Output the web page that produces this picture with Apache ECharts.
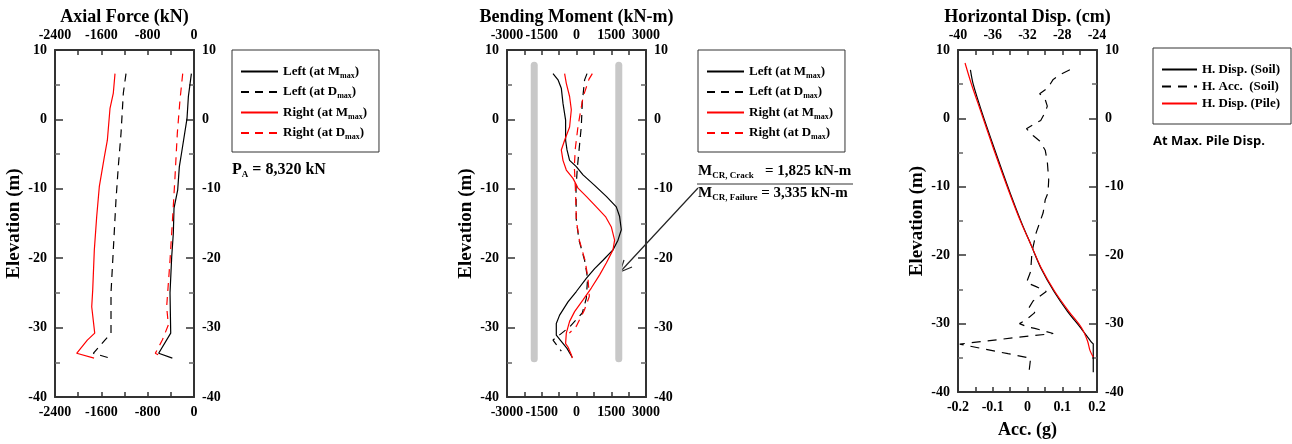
<!DOCTYPE html>
<html>
<head>
<meta charset="utf-8">
<script src="https://cdn.jsdelivr.net/npm/echarts@6/dist/echarts.min.js"></script>
<style>
  html, body { margin: 0; padding: 0; background: #fff; }
  #chart { width: 1292px; height: 444px; }
</style>
</head>
<body>
<div id="chart"></div>
<script>
// ---- data ----
// Axial force (kN) vs elevation (m)
var axLeftMElev  = [6.6, 3.3, 0.1, -4.7, -6.8, -10.2, -12.8, -16.4, -19.8, -25.0, -30.8, -33.7, -34.4];
var axLeftMVal   = [-45, -97, -121, -212, -253, -282, -345, -357, -385, -414, -402, -610, -374];
var axLeftDElev  = [6.6, 3.8, -2.0, -6.8, -11.6, -18.8, -25.0, -30.8, -33.7, -34.4];
var axLeftDVal   = [-1174, -1220, -1260, -1307, -1347, -1393, -1433, -1433, -1739, -1450];
var axRightMElev = [6.6, 3.8, 1.6, -3.0, -5.4, -9.7, -14.0, -18.8, -24.6, -27.0, -30.8, -31.8, -33.7, -34.4];
var axRightMVal  = [-1364, -1393, -1450, -1496, -1548, -1635, -1680, -1721, -1749, -1766, -1714, -1842, -2026, -1726];
var axRightDElev = [6.6, 2.8, -2.0, -8.3, -14.0, -20.3, -27.0, -29.6, -31.8, -33.7, -33.9];
var axRightDVal  = [-195, -242, -288, -328, -368, -414, -472, -443, -547, -668, -620];

// Bending moment (kN-m) vs elevation (m)
var bmLeftMElev  = [6.6, 5.7, 4.5, 2.3, -0.1, -3.0, -4.4, -5.9, -6.8, -8.0, -9.5, -11.1, -12.6, -14.0, -15.9, -17.4, -18.8, -20.3, -21.5, -22.9, -24.8, -26.3, -28.2, -29.4, -31.1, -31.8, -33.0, -33.8, -34.3];
var bmLeftMVal   = [-1014, -798, -656, -583, -470, -470, -410, -298, -8, 281, 782, 1287, 1718, 1861, 1934, 1790, 1575, 1144, 782, 423, -8, -367, -729, -872, -872, -700, -410, -270, -180];
var bmLeftDElev  = [6.6, 5.7, 2.5, -1.0, -4.0, -7.0, -10.0, -12.5, -14.5, -17.4, -20.3, -22.9, -25.8, -27.9, -29.9, -31.8, -33.4];
var bmLeftDVal   = [454, 350, 250, 208, 122, 35, -21, -15, -8, 108, 350, 479, 423, 250, -298, -1014, -656];
var bmRightMElev = [6.6, 5.2, 3.3, 1.4, -1.1, -3.0, -4.4, -5.9, -7.3, -8.5, -9.9, -11.1, -12.6, -14.0, -15.5, -17.4, -18.8, -20.7, -22.4, -24.3, -26.0, -27.7, -29.1, -30.8, -32.3, -32.8, -33.9, -34.4];
var bmRightMVal  = [-513, -440, -298, -224, -298, -513, -656, -583, -440, -151, 65, 423, 855, 1250, 1503, 1645, 1575, 1287, 998, 639, 281, -82, -298, -440, -470, -367, -224, -181];
var bmRightDElev = [6.6, 5.8, 3.2, -1.0, -4.2, -6.8, -9.7, -12.6, -14.5, -17.4, -20.3, -22.9, -25.5, -27.5, -29.8, -30.8];
var bmRightDVal  = [683, 540, 281, 65, -51, -94, -51, -21, -8, 122, 367, 496, 553, 337, -8, -310];
var crackMoment  = 1825;
var crackElev    = [7.8, -34.5];

// Horizontal displacement (cm) and acceleration (g) vs elevation (m)
var dispSoilElev = [7.1, 5.0, 1.1, -4.65, -10.9, -15.2, -18.6, -21.9, -25.3, -28.2, -30.6, -32.75, -33.0, -37.1];
var dispSoilVal  = [-38.57, -38.25, -37.3, -35.75, -34.0, -32.7, -31.56, -30.45, -28.95, -27.4, -25.9, -24.62, -24.43, -24.43];
var dispPileElev = [8.1, 5.0, 1.1, -4.65, -10.9, -15.2, -18.6, -21.9, -25.3, -28.2, -30.6, -32.5, -33.95, -34.9];
var dispPileVal  = [-39.19, -38.45, -37.4, -35.85, -34.07, -32.75, -31.56, -30.4, -28.86, -27.25, -25.78, -25.1, -24.8, -24.43];
var accSoilElev  = [7.1, 6.5, 5.7, 4.5, 3.6, 2.9, 1.8, 0.9, -0.3, -0.8, -1.5, -2.5, -3.3, -4.65, -6.3, -9.0, -10.9, -11.9, -13.8, -16.7, -19.5, -22.4, -24.0, -24.6, -25.3, -26.7, -27.7, -28.4, -29.4, -30.0, -30.5, -30.7, -31.45, -32.0, -33.0, -34.4, -35.05, -36.8];
var accSoilVal   = [0.122, 0.098, 0.074, 0.059, 0.035, 0.05, 0.057, 0.051, 0.038, 0.021, -0.003, 0.016, 0.035, 0.051, 0.057, 0.061, 0.059, 0.051, 0.045, 0.025, 0.013, 0.009, -0.003, 0.025, 0.054, 0.016, 0.004, 0.021, -0.003, -0.023, 0.001, 0.021, 0.074, -0.027, -0.195, -0.056, 0.009, 0.005];

var legendAxial = ['Left (at Mmax)', 'Left (at Dmax)', 'Right (at Mmax)', 'Right (at Dmax)'];
var legendDisp  = ['H. Disp. (Soil)', 'H. Acc.  (Soil)', 'H. Disp. (Pile)'];

// ---- styling helpers ----
var SERIF = '"Liberation Serif", "Times New Roman", serif';
var AXIS_COLOR = '#333';

function zip(xs, ys) {
  return xs.map(function (x, i) { return [x, ys[i]]; });
}

function elevAxes(gi) {
  var common = {
    type: 'value', gridIndex: gi, min: -40, max: 10, interval: 10,
    axisLine: { show: true, onZero: false, lineStyle: { color: AXIS_COLOR, width: 2 } },
    axisTick: { show: true, inside: true, length: 8, lineStyle: { color: AXIS_COLOR, width: 1.5 } },
    minorTick: { show: true, splitNumber: 2, length: 5, lineStyle: { color: '#666', width: 1.5 } },
    splitLine: { show: false },
    axisLabel: { margin: 8, color: '#000', fontFamily: SERIF, fontWeight: 'bold', fontSize: 14 }
  };
  var left = Object.assign({}, common, {
    position: 'left', name: 'Elevation (m)', nameLocation: 'middle', nameGap: 31, nameRotate: 90,
    nameTextStyle: { color: '#000', fontFamily: SERIF, fontWeight: 'bold', fontSize: 19 }
  });
  var right = Object.assign({}, common, { position: 'right' });
  return [left, right];
}

function valAxis(gi, pos, min, max, step, labelEvery, name, nameGap) {
  return {
    type: 'value', gridIndex: gi, position: pos, min: min, max: max, interval: step,
    axisLine: { show: true, onZero: false, lineStyle: { color: AXIS_COLOR, width: 2 } },
    axisTick: { show: true, inside: true, length: 5, lineStyle: { color: AXIS_COLOR, width: 1.5 } },
    splitLine: { show: false },
    axisLabel: {
      margin: 8, color: '#000', fontFamily: SERIF, fontWeight: 'bold', fontSize: 14,
      showMinLabel: true, showMaxLabel: true,
      formatter: function (v) {
        var r = v / labelEvery;
        if (Math.abs(r - Math.round(r)) > 1e-6) return '';
        return String(Math.round(Math.round(r) * labelEvery * 1000) / 1000);
      }
    },
    name: name || '', nameLocation: 'middle', nameGap: nameGap || 0,
    nameMoveOverlap: false,
    nameTextStyle: { color: '#000', fontFamily: SERIF, fontWeight: 'bold', fontSize: 18 }
  };
}

function line(name, xi, yi, data, color, dash, smooth) {
  return {
    type: 'line', name: name, xAxisIndex: xi, yAxisIndex: yi, data: data,
    symbol: 'none', smooth: smooth || false, animation: false,
    lineStyle: { color: color, width: 1.2, type: dash ? dash : 'solid' },
    itemStyle: { color: color }
  };
}

var subRich = {
  s: { fontSize: 8, fontFamily: SERIF, fontWeight: 'bold', verticalAlign: 'bottom', lineHeight: 16 }
};

function legendBox(names, left, top, pad, itemW, itemH, gap, fs) {
  return {
    data: names, orient: 'vertical', left: left, top: top,
    padding: pad, itemGap: gap, itemWidth: itemW, itemHeight: itemH,
    borderColor: '#333', borderWidth: 1, backgroundColor: '#fff',
    itemStyle: { opacity: 0 },
    textStyle: { color: '#000', fontFamily: SERIF, fontWeight: 'bold', fontSize: fs, rich: subRich },
    formatter: function (n) { return n.replace(/([MD])max/, '$1{s|max}'); }
  };
}

var dash1 = [8, 6];
var dash3 = [9, 7];

var option = {
  backgroundColor: '#fff',
  animation: false,
  grid: [
    { left: 55, top: 50, width: 139, height: 347 },
    { left: 507, top: 50, width: 139, height: 347 },
    { left: 958, top: 50, width: 139, height: 347 }
  ],
  xAxis: [
    valAxis(0, 'bottom', -2400, 0, 400, 800),
    valAxis(0, 'top', -2400, 0, 400, 800, 'Axial Force (kN)', 24),
    valAxis(1, 'bottom', -3000, 3000, 750, 1500),
    valAxis(1, 'top', -3000, 3000, 750, 1500, 'Bending Moment (kN-m)', 24),
    valAxis(2, 'bottom', -0.2, 0.2, 0.05, 0.1, 'Acc. (g)', 29),
    valAxis(2, 'top', -40, -24, 2, 4, 'Horizontal Disp. (cm)', 24)
  ],
  yAxis: [].concat(elevAxes(0), elevAxes(1), elevAxes(2)),
  legend: [
    legendBox(legendAxial, 232, 50, [15, 12, 11, 8], 37, 14, 6, 13),
    legendBox(legendAxial, 698, 50, [15, 12, 11, 8], 37, 14, 6, 13),
    legendBox(legendDisp, 1153, 48, [15, 11, 14, 8], 35, 12, 4, 13)
  ],
  series: [
    line('Left (at Mmax)', 0, 0, zip(axLeftMVal, axLeftMElev), '#000'),
    line('Left (at Dmax)', 0, 0, zip(axLeftDVal, axLeftDElev), '#000', dash1),
    line('Right (at Mmax)', 0, 0, zip(axRightMVal, axRightMElev), '#ff0000'),
    line('Right (at Dmax)', 0, 0, zip(axRightDVal, axRightDElev), '#ff0000', dash1),

    {
      type: 'line', name: 'crack-neg', xAxisIndex: 2, yAxisIndex: 2, symbol: 'none', z: 1,
      data: zip([-crackMoment, -crackMoment], crackElev),
      lineStyle: { color: '#c8c8c8', width: 7, cap: 'round' }
    },
    {
      type: 'line', name: 'crack-pos', xAxisIndex: 2, yAxisIndex: 2, symbol: 'none', z: 1,
      data: zip([crackMoment, crackMoment], crackElev),
      lineStyle: { color: '#c8c8c8', width: 7, cap: 'round' }
    },
    line('Left (at Mmax)', 2, 2, zip(bmLeftMVal, bmLeftMElev), '#000'),
    line('Left (at Dmax)', 2, 2, zip(bmLeftDVal, bmLeftDElev), '#000', dash1),
    line('Right (at Mmax)', 2, 2, zip(bmRightMVal, bmRightMElev), '#ff0000'),
    line('Right (at Dmax)', 2, 2, zip(bmRightDVal, bmRightDElev), '#ff0000', dash1),

    line('H. Disp. (Soil)', 5, 4, zip(dispSoilVal, dispSoilElev), '#000', null, 0.3),
    line('H. Acc.  (Soil)', 4, 4, zip(accSoilVal, accSoilElev), '#000', dash3),
    line('H. Disp. (Pile)', 5, 4, zip(dispPileVal, dispPileElev), '#ff0000', null, 0.3)
  ],
  graphic: [
    {
      type: 'text', left: 232, top: 162,
      style: {
        text: 'P{s|A} = 8,320 kN', fill: '#000',
        font: 'bold 16px ' + SERIF,
        rich: { s: { fontSize: 9, fontFamily: SERIF, fontWeight: 'bold', verticalAlign: 'bottom', lineHeight: 19 } }
      }
    },
    {
      type: 'text', left: 698, top: 164,
      style: {
        text: 'M{s|CR, Crack}   = 1,825 kN-m', fill: '#000',
        font: 'bold 15px ' + SERIF,
        rich: { s: { fontSize: 9, fontFamily: SERIF, fontWeight: 'bold', verticalAlign: 'bottom', lineHeight: 18 } }
      }
    },
    {
      type: 'line', shape: { x1: 697, y1: 184, x2: 853, y2: 184 },
      style: { stroke: '#333', lineWidth: 1 }
    },
    {
      type: 'text', left: 698, top: 186,
      style: {
        text: 'M{s|CR, Failure} = 3,335 kN-m', fill: '#000',
        font: 'bold 15px ' + SERIF,
        rich: { s: { fontSize: 9, fontFamily: SERIF, fontWeight: 'bold', verticalAlign: 'bottom', lineHeight: 18 } }
      }
    },
    {
      type: 'line', shape: { x1: 698, y1: 188, x2: 620, y2: 272 },
      style: { stroke: '#222', lineWidth: 1.2 }
    },
    {
      type: 'polyline', shape: { points: [[632, 267], [620, 272], [624, 260]] },
      style: { stroke: '#222', lineWidth: 1.2, fill: null }
    },
    {
      type: 'text', left: 1153, top: 135,
      style: { text: 'At Max. Pile Disp.', fill: '#000', font: 'bold 13px "Open Sans", "Noto Sans", sans-serif' }
    }
  ]
};

var chart = echarts.init(document.getElementById('chart'));
chart.setOption(option);
</script>
</body>
</html>
